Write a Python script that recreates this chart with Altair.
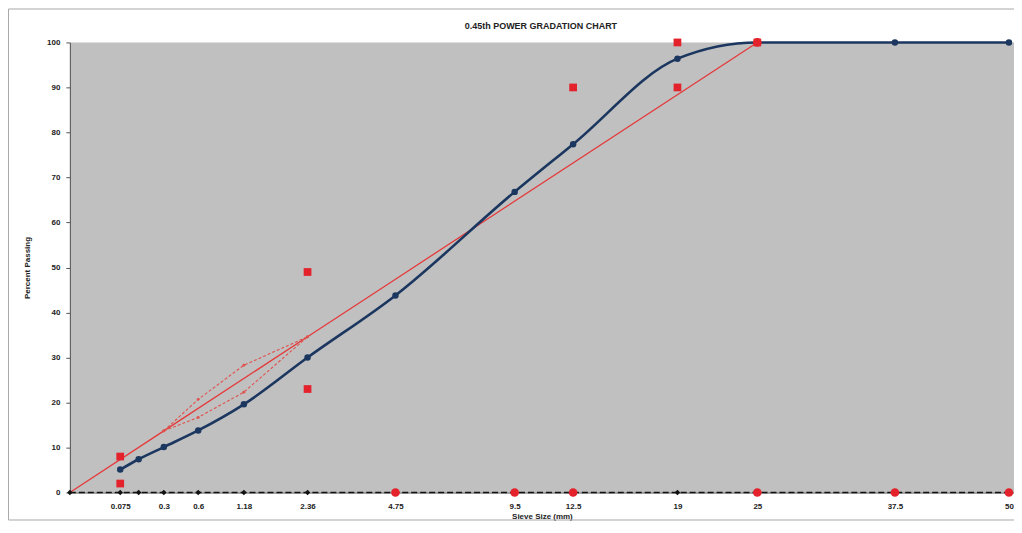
import altair as alt
import pandas as pd

# ---- data ----
grad_sieve = [0.075, 0.15, 0.3, 0.6, 1.18, 2.36, 4.75, 9.5, 12.5, 19, 25, 37.5, 50]
grad_pass = [5.1, 7.4, 10.1, 13.8, 19.6, 30.0, 43.8, 66.8, 77.4, 96.4, 100, 100, 100]

mdl_sieve = [0, 0.3, 2.36, 4.75, 25]
mdl_pass = [0, 13.7, 34.6, 47.4, 100]

rz_sieve = [0.3, 0.6, 1.18, 2.36]
rz_lower = [13.7, 16.7, 22.3, 34.6]
rz_upper = [13.7, 20.7, 28.3, 34.6]

cp_sieve = [0.075, 0.075, 2.36, 2.36, 12.5, 19, 19, 25]
cp_pass = [2, 8, 23, 49, 90, 90, 100, 100]

base_black_sieve = [0, 0.075, 0.15, 0.3, 0.6, 1.18, 2.36, 19]
base_red_sieve = [4.75, 9.5, 12.5, 25, 37.5, 50]
base_red_pass = [0, 0, 0, 0, 0, 0]
base_line_sieve = [0, 50]

tick_values = [0.075, 0.3, 0.6, 1.18, 2.36, 4.75, 9.5, 12.5, 19, 25, 37.5, 50]

TITLE = "0.45th POWER  GRADATION CHART"
FONT = "Liberation Sans"
NAVY = "#1b365f"
RED = "#e3222b"

xs = alt.Scale(type="pow", exponent=0.45, domain=[0, 50.6], nice=False)
ys = alt.Scale(domain=[0, 100], nice=False)

grad_df = pd.DataFrame({"sieve": grad_sieve, "pass": grad_pass})
mdl_df = pd.DataFrame({"sieve": mdl_sieve, "pass": mdl_pass})
rz_df = pd.DataFrame({
    "sieve": rz_sieve + rz_sieve,
    "pass": rz_lower + rz_upper,
    "edge": ["lower"] * len(rz_sieve) + ["upper"] * len(rz_sieve),
})
cp_df = pd.DataFrame({"sieve": cp_sieve, "pass": cp_pass})
bb_df = pd.DataFrame({"sieve": base_black_sieve, "pass": [0] * len(base_black_sieve)})
br_df = pd.DataFrame({"sieve": base_red_sieve + [25], "pass": base_red_pass + [100]})
bl_df = pd.DataFrame({"sieve": base_line_sieve, "pass": [0, 0]})

x_axis = alt.Axis(
    values=tick_values, format=".4~g", title="Sieve Size  (mm)",
    labelFont=FONT, labelFontSize=8, labelFontWeight="bold", labelColor="#222",
    titleFont=FONT, titleFontSize=8, titleFontWeight="bold", titleColor="#222",
    ticks=False, domainColor="#555", labelPadding=10, titlePadding=2,
    grid=False, labelFlush=False,
)
y_axis = alt.Axis(
    values=list(range(0, 101, 10)), title="Percent Passing",
    labelFont=FONT, labelFontSize=8, labelFontWeight="bold", labelColor="#222",
    titleFont=FONT, titleFontSize=8, titleFontWeight="bold", titleColor="#222",
    tickSize=4, tickColor="#555", domainColor="#555", labelPadding=6,
    titlePadding=15, grid=False,
)

X = alt.X("sieve:Q", scale=xs, axis=x_axis)
Y = alt.Y("pass:Q", scale=ys, axis=y_axis)

frame = alt.Chart(pd.DataFrame({"a": [0]})).mark_rect(
    fill=None, stroke="#a8a8a8", strokeWidth=1
).encode(x=alt.value(-61.5), x2=alt.value(980), y=alt.value(-33.5), y2=alt.value(478.5))

title_text = alt.Chart(pd.DataFrame({"t": [TITLE]})).mark_text(
    font=FONT, fontSize=9, fontWeight="bold", color="#222", align="center", baseline="middle"
).encode(x=alt.value(472), y=alt.value(-16), text="t:N")

base_line = alt.Chart(bl_df).mark_line(
    color="#111", strokeWidth=1.6, strokeDash=[6, 3]
).encode(x=X, y=Y)

mdl = alt.Chart(mdl_df).mark_line(color="#e5393a", strokeWidth=1.3).encode(x=X, y=Y)
mdl_pts = alt.Chart(mdl_df[(mdl_df["sieve"] > 0) & (mdl_df["sieve"] < 25)]).mark_point(
    shape="stroke", size=12, color="#d02020", filled=True
).encode(x=X, y=Y)

rz = alt.Chart(rz_df).mark_line(
    color="#e0504c", strokeWidth=1.1, strokeDash=[3, 2],
    point=alt.OverlayMarkDef(size=8, color="#e0504c"),
).encode(x=X, y=Y, detail="edge:N")

grad = alt.Chart(grad_df).mark_line(
    color=NAVY, strokeWidth=2.6, interpolate="monotone"
).encode(x=X, y=Y)
grad_pts = alt.Chart(grad_df).mark_circle(color=NAVY, size=42, opacity=1).encode(x=X, y=Y)

bb = alt.Chart(bb_df).mark_point(
    shape="diamond", filled=True, size=30, color="#111", opacity=1
).encode(x=X, y=Y)
br = alt.Chart(br_df).mark_circle(color=RED, size=75, opacity=1).encode(x=X, y=Y)
cp = alt.Chart(cp_df).mark_square(color=RED, size=60, opacity=1).encode(x=X, y=Y)

chart = alt.layer(
    frame, title_text, base_line, mdl, mdl_pts, rz, grad, grad_pts, bb, br, cp
).properties(
    width=946,
    height=451,
    background="white",
    autosize=alt.AutoSizeParams(type="none"),
    padding={"left": 62, "top": 34, "right": 0, "bottom": 28},
).configure_view(fill="#c0c0c0", strokeWidth=0)

chart.save("out.html", embed_options={"renderer": "svg", "actions": False})
